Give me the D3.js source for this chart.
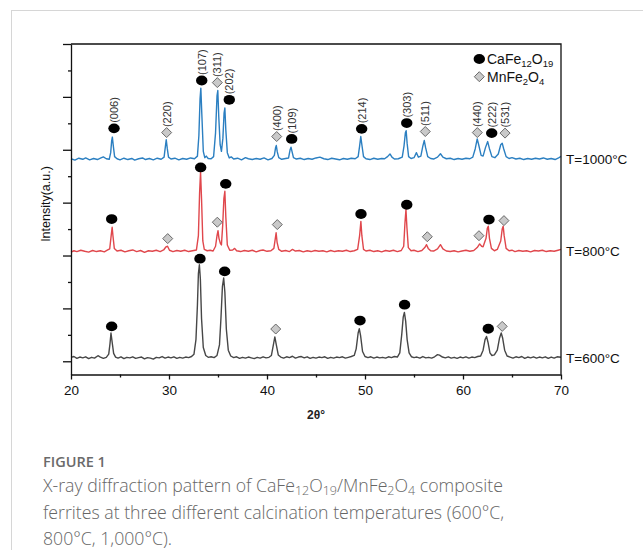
<!DOCTYPE html>
<html><head><meta charset="utf-8">
<script src="https://cdn.jsdelivr.net/npm/d3@7"></script>
<style>
html,body{margin:0;padding:0;background:#fff;}
svg{display:block;}
</style></head>
<body>
<svg id="chart" width="643" height="550"></svg>
<script>
// ---------- DATA ----------
const xTicks = [20, 30, 40, 50, 60, 70];
const xMinorTicks = [25, 35, 45, 55, 65];
const yTicks = [0, 200, 400, 600, 800, 1000, 1200];
const yMinorTicks = [100, 300, 500, 700, 900, 1100];
const seriesNames = ["T=600°C", "T=800°C", "T=1000°C"];
const seriesOffsets = [12, 415, 764];

// [2θ, relative intensity]
const data600 = [
[20.0,3],[20.3,6],[20.6,-1],[20.9,4],[21.2,1],[21.5,5],[21.8,-2],[22.1,3],[22.4,0],[22.75,9],[23.0,4],[23.3,-1],[23.6,3],
[23.85,15],[23.98,55],[24.08,95],[24.2,60],[24.35,18],[24.55,4],[24.8,0],[25.1,5],[25.4,-2],[25.7,3],[26.0,1],[26.3,5],
[26.6,-1],[26.9,2],[27.2,4],[27.5,-3],[27.8,2],[28.1,0],[28.4,-4],[28.7,3],[29.0,1],[29.3,6],[29.6,0],[29.9,4],[30.2,1],
[30.5,5],[30.8,-1],[31.1,3],[31.4,0],[31.7,4],[32.0,2],[32.3,6],[32.55,15],[32.75,70],[32.9,200],[33.0,320],[33.1,353],
[33.2,300],[33.32,150],[33.5,40],[33.75,10],[34.0,3],[34.3,5],[34.6,2],[34.9,10],[35.15,50],[35.3,150],[35.45,270],
[35.58,303],[35.7,250],[35.85,110],[36.05,30],[36.3,8],[36.6,2],[36.9,5],[37.2,-1],[37.5,3],[37.8,0],[38.1,4],[38.4,1],
[38.7,-2],[39.0,3],[39.3,0],[39.6,5],[39.9,1],[40.2,3],[40.45,10],[40.65,50],[40.8,80],[40.95,50],[41.15,12],[41.4,4],
[41.7,0],[42.0,5],[42.3,2],[42.6,7],[42.9,0],[43.2,4],[43.5,6],[43.8,1],[44.1,5],[44.4,-1],[44.7,3],[45.0,0],[45.3,4],
[45.6,2],[45.9,5],[46.2,-1],[46.5,3],[46.8,0],[47.1,4],[47.4,2],[47.7,5],[48.0,0],[48.3,3],[48.6,6],[48.9,10],[49.1,35],
[49.3,95],[49.42,111],[49.55,85],[49.75,25],[50.0,6],[50.3,2],[50.6,5],[50.9,0],[51.2,4],[51.5,1],[51.8,3],[52.1,0],
[52.4,5],[52.7,2],[53.0,6],[53.3,4],[53.55,20],[53.75,90],[53.9,155],[54.02,173],[54.15,140],[54.3,70],[54.5,20],
[54.75,5],[55.0,2],[55.3,4],[55.6,0],[55.9,6],[56.2,1],[56.5,3],[56.8,0],[57.1,5],[57.4,13],[57.6,11],[57.9,4],[58.2,1],
[58.5,5],[58.8,0],[59.1,3],[59.4,-1],[59.7,4],[60.0,1],[60.3,5],[60.6,0],[60.9,4],[61.2,2],[61.5,6],[61.8,8],[62.05,30],
[62.25,70],[62.4,82],[62.55,60],[62.75,20],[62.95,10],[63.2,12],[63.5,30],[63.72,75],[63.9,95],[64.05,75],[64.25,30],
[64.5,8],[64.8,4],[65.1,0],[65.4,5],[65.7,2],[66.0,6],[66.3,-1],[66.6,4],[66.9,1],[67.2,5],[67.5,0],[67.8,4],[68.1,1],
[68.4,5],[68.7,-1],[69.0,4],[69.3,0],[69.6,5],[70.0,3]
];
const data800 = [
[20.0,-2],[20.3,3],[20.6,0],[21.0,5],[21.4,1],[21.8,-2],[22.2,4],[22.6,0],[23.0,3],[23.4,-1],[23.7,5],[23.95,10],[24.1,60],
[24.2,92],[24.28,60],[24.42,12],[24.7,2],[25.1,5],[25.5,-1],[25.9,3],[26.3,6],[26.7,0],[27.1,4],[27.5,-3],[27.9,3],[28.3,1],
[28.7,5],[29.1,0],[29.45,6],[29.7,18],[29.85,20],[30.05,5],[30.4,0],[30.8,4],[31.2,1],[31.6,5],[32.0,0],[32.4,3],[32.8,6],
[33.0,60],[33.12,220],[33.22,302],[33.32,200],[33.45,40],[33.6,8],[33.9,3],[34.2,5],[34.5,2],[34.75,20],[34.9,60],[35.0,79],
[35.1,50],[35.25,30],[35.35,25],[35.48,100],[35.6,200],[35.7,228],[35.8,130],[35.95,25],[36.2,5],[36.5,6],[36.7,12],[36.9,3],
[37.3,0],[37.7,4],[38.1,1],[38.5,5],[38.9,-1],[39.3,4],[39.6,6],[40.0,1],[40.4,3],[40.7,12],[40.85,50],[40.93,71],[41.03,35],
[41.2,8],[41.5,1],[41.9,4],[42.3,0],[42.6,8],[42.9,2],[43.3,4],[43.7,-1],[44.1,3],[44.5,0],[44.9,4],[45.3,1],[45.7,3],
[46.1,-1],[46.5,4],[46.9,0],[47.3,3],[47.7,1],[48.1,5],[48.5,0],[48.9,3],[49.25,8],[49.45,60],[49.58,114],[49.68,60],
[49.85,8],[50.1,2],[50.5,5],[50.9,0],[51.3,3],[51.7,-1],[52.1,4],[52.5,1],[52.9,5],[53.3,0],[53.7,4],[53.95,20],[54.08,110],
[54.18,159],[54.28,90],[54.42,15],[54.7,3],[55.0,5],[55.4,0],[55.8,4],[56.1,15],[56.28,26],[56.45,12],[56.7,3],[57.0,2],
[57.4,10],[57.7,26],[57.95,10],[58.3,2],[58.7,0],[59.1,3],[59.5,-1],[59.9,2],[60.3,5],[60.7,1],[61.1,4],[61.45,15],[61.7,29],
[61.9,20],[62.05,18],[62.35,50],[62.48,88],[62.58,96],[62.7,50],[62.9,12],[63.2,3],[63.5,8],[63.85,40],[64.0,85],[64.1,96],
[64.2,60],[64.4,12],[64.7,3],[65.0,5],[65.3,0],[65.7,4],[66.1,1],[66.5,3],[66.9,-1],[67.3,4],[67.7,2],[68.1,5],[68.5,0],
[68.9,3],[69.3,1],[69.7,5],[70.0,8]
];
const data1000 = [
[20.0,2],[20.4,-3],[20.8,4],[21.2,0],[21.5,5],[21.9,-2],[22.3,3],[22.7,-1],[23.0,4],[23.3,9],[23.6,2],[23.9,0],[24.05,25],
[24.15,70],[24.22,84],[24.32,50],[24.45,10],[24.7,2],[25.0,-2],[25.4,4],[25.8,-1],[26.2,3],[26.5,-3],[26.9,2],[27.3,5],
[27.6,-1],[28.0,3],[28.4,-2],[28.8,4],[29.2,0],[29.5,8],[29.62,45],[29.72,74],[29.82,42],[29.95,8],[30.2,1],[30.6,4],
[31.0,-2],[31.4,3],[31.8,0],[32.2,5],[32.6,2],[32.9,12],[33.05,90],[33.17,230],[33.25,269],[33.35,170],[33.5,30],[33.65,6],
[33.8,12],[34.0,3],[34.3,2],[34.55,10],[34.75,100],[34.9,240],[34.98,260],[35.08,160],[35.22,55],[35.35,30],[35.5,80],
[35.62,175],[35.7,194],[35.8,110],[35.95,25],[36.15,5],[36.35,9],[36.6,1],[37.0,4],[37.4,-2],[37.8,6],[38.1,2],[38.5,-1],
[38.9,3],[39.3,0],[39.7,5],[40.1,-2],[40.5,3],[40.75,15],[40.88,45],[40.95,52],[41.05,28],[41.2,6],[41.5,0],[41.9,3],
[42.2,5],[42.35,35],[42.45,46],[42.55,30],[42.7,6],[43.0,1],[43.4,4],[43.8,-1],[44.2,3],[44.6,0],[45.0,5],[45.4,8],[45.8,2],
[46.2,-1],[46.6,4],[47.0,1],[47.4,-2],[47.8,3],[48.2,0],[48.6,4],[49.0,2],[49.3,10],[49.45,50],[49.57,86],[49.68,55],
[49.85,10],[50.1,2],[50.5,-1],[50.9,4],[51.3,0],[51.7,3],[52.0,2],[52.3,10],[52.55,20],[52.75,8],[53.0,1],[53.4,2],[53.8,8],
[53.98,50],[54.12,100],[54.2,108],[54.3,60],[54.45,10],[54.7,3],[55.0,6],[55.25,25],[55.45,8],[55.7,12],[55.9,50],[56.05,71],
[56.18,45],[56.4,10],[56.7,3],[57.0,1],[57.4,8],[57.7,21],[57.95,8],[58.3,2],[58.7,4],[59.1,-1],[59.5,3],[59.9,0],[60.3,4],
[60.7,2],[61.0,8],[61.25,40],[61.45,77],[61.6,55],[61.85,15],[62.05,12],[62.3,45],[62.52,67],[62.7,40],[62.95,10],[63.25,6],
[63.6,20],[63.85,55],[64.0,61],[64.15,40],[64.4,10],[64.7,3],[65.0,6],[65.4,1],[65.8,4],[66.2,-1],[66.6,3],[67.0,0],[67.4,4],
[67.8,1],[68.2,5],[68.6,0],[69.0,3],[69.4,-1],[69.7,4],[70.0,11]
];

// markers: [2θ, relative height of marker centre, phase ("c" = CaFe12O19, "d" = MnFe2O4), hkl label]
const markers600 = [
[24.15,120,"c",""],[33.16,376,"c",""],[35.68,328,"c",""],[40.89,110,"d",""],
[49.49,142,"c",""],[54.04,202,"c",""],[62.58,111,"c",""],[64.0,120,"d",""]
];
const markers800 = [
[24.15,123,"c",""],[29.87,49,"d",""],[33.23,318,"c",""],[34.93,111,"d",""],[35.79,256,"c",""],
[41.05,102,"d",""],[49.59,142,"c",""],[54.26,177,"c",""],[56.36,56,"d",""],[61.63,60,"d",""],
[62.65,121,"c",""],[64.18,117,"d",""]
];
const markers1000 = [
[24.39,117,"c","(006)"],[29.76,101,"d","(220)"],[33.34,298,"c","(107)"],[34.93,290,"d","(311)"],
[36.15,225,"c","(202)"],[40.99,86,"d","(400)"],[42.52,77,"c","(109)"],[49.66,115,"c","(214)"],
[54.26,137,"c","(303)"],[56.15,105,"d","(511)"],[61.46,101,"d","(440)"],[62.93,99,"c","(222)"],
[64.29,99,"d","(531)"]
];

const seriesData = [data600, data800, data1000];
const seriesMarkers = [markers600, markers800, markers1000];
const seriesColors = ["#474747", "#e0474c", "#2b7fc1"];

// ---------- DRAW ----------
const svg = d3.select("#chart");
const W = 643, H = 550;
svg.append("rect").attr("x",0).attr("y",0).attr("width",W).attr("height",H).attr("fill","#fff");
svg.append("rect").attr("x",11.5).attr("y",10.5).attr("width",700).attr("height",700)
  .attr("fill","none").attr("stroke","#d6d6d6").attr("stroke-width",1);

const x = d3.scaleLinear().domain([20,70]).range([71,561]);
const y = d3.scaleLinear().domain([-50,1200]).range([374.5,44]);
const font = "'Liberation Sans', Arial, sans-serif";

// lines
const line = d3.line().x(d => x(d[0])).y(d => y(d[1]));
seriesData.forEach((s, i) => {
  const off = seriesOffsets[i];
  svg.append("path")
    .datum(s.map(d => [d[0], d[1] + off]))
    .attr("fill","none").attr("stroke",seriesColors[i]).attr("stroke-width",1.4)
    .attr("stroke-linejoin","round").attr("d", line);
});

// axes
const gAx = svg.append("g").attr("font-family", font);
const yMaj = d3.axisLeft(y).tickValues(yTicks).tickSize(8).tickSizeOuter(0).tickFormat("");
const yMin = d3.axisLeft(y).tickValues(yMinorTicks).tickSize(3).tickSizeOuter(0).tickFormat("");
gAx.append("g").attr("transform","translate(71,0)").call(yMaj);
gAx.append("g").attr("transform","translate(71,0)").call(yMin).select(".domain").remove();
const xMaj = d3.axisBottom(x).tickValues(xTicks).tickSize(5).tickSizeOuter(0).tickPadding(6).tickFormat(d3.format("d"));
const xMin = d3.axisBottom(x).tickValues(xMinorTicks).tickSize(3).tickSizeOuter(0).tickFormat("");
const gx = gAx.append("g").attr("transform","translate(0,374.5)").call(xMaj);
gAx.append("g").attr("transform","translate(0,374.5)").call(xMin).select(".domain").remove();
gx.selectAll("text").attr("font-size",13.5).attr("fill","#111").attr("font-family",font);
gAx.selectAll(".domain, .tick line").attr("stroke","#111").attr("stroke-width",1.3);
// frame top/right
svg.append("path").attr("d", `M${x(20)},${y(1200)}H${x(70)}V${y(-50)}`)
  .attr("fill","none").attr("stroke","#111").attr("stroke-width",1.3);

// markers
function drawMarker(g, cx, cy, phase) {
  if (phase === "c") {
    g.append("ellipse").attr("cx",cx).attr("cy",cy).attr("rx",5.7).attr("ry",4.9).attr("fill","#000");
  } else {
    const r = 5;
    g.append("path").attr("d",`M${cx},${cy-r}L${cx+r},${cy}L${cx},${cy+r}L${cx-r},${cy}Z`)
      .attr("fill","#c9c9c9").attr("stroke","#6a6a6a").attr("stroke-width",1);
  }
}
const gm = svg.append("g");
seriesMarkers.forEach((ms, i) => {
  const off = seriesOffsets[i];
  ms.forEach(m => {
    const cx = x(m[0]), cy = y(m[1] + off);
    drawMarker(gm, cx, cy, m[2]);
    if (m[3]) {
      gm.append("text").attr("transform",`translate(${cx},${cy-5.5}) rotate(-90)`)
        .attr("dy","0.35em").attr("font-family",font).attr("font-size",11).attr("fill","#333")
        .text(m[3]);
    }
  });
});

// series labels
seriesNames.forEach((n, i) => {
  svg.append("text").attr("x",566).attr("y", y(seriesOffsets[i])).attr("dy","0.35em")
    .attr("font-family",font).attr("font-size",13.5).attr("fill","#111").text(n);
});

// legend
const lg = svg.append("g").attr("font-family",font).attr("font-size",14).attr("fill","#111");
drawMarker(lg, 479.3, 59, "c");
drawMarker(lg, 479.3, 76.7, "d");
const t1 = lg.append("text").attr("x",487).attr("y",59).attr("dy","0.35em");
t1.append("tspan").text("CaFe");
t1.append("tspan").attr("font-size",9.5).attr("dy","3").text("12");
t1.append("tspan").attr("dy","-3").text("O");
t1.append("tspan").attr("font-size",9.5).attr("dy","3").text("19");
const t2 = lg.append("text").attr("x",487).attr("y",76.7).attr("dy","0.35em");
t2.append("tspan").text("MnFe");
t2.append("tspan").attr("font-size",9.5).attr("dy","3").text("2");
t2.append("tspan").attr("dy","-3").text("O");
t2.append("tspan").attr("font-size",9.5).attr("dy","3").text("4");

// axis titles
svg.append("text").attr("transform","translate(46,204) rotate(-90)").attr("text-anchor","middle")
  .attr("dy","0.35em").attr("font-family",font).attr("font-size",12.5).attr("fill","#111").text("Intensity(a.u.)");
svg.append("text").attr("x",316).attr("y",415).attr("text-anchor","middle").attr("dy","0.35em")
  .attr("font-family",font).attr("font-size",12).attr("font-weight",600).attr("fill","#222").text("2θ°");

// caption
const cf = "'Open Sans', 'Noto Sans', sans-serif";
svg.append("text").attr("x",43).attr("y",467).attr("font-family",cf).attr("font-size",14.5)
  .attr("font-weight",600).attr("fill","#6a6a6a").text("FIGURE 1");
const cap = svg.append("g").attr("font-family",cf).attr("font-size",17.7).attr("font-weight",300).attr("fill","#666");
const l1 = cap.append("text").attr("x",43).attr("y",492);
l1.append("tspan").text("X-ray diffraction pattern of CaFe");
l1.append("tspan").attr("font-size",12.5).attr("dy",3).text("12");
l1.append("tspan").attr("dy",-3).text("O");
l1.append("tspan").attr("font-size",12.5).attr("dy",3).text("19");
l1.append("tspan").attr("dy",-3).text("/MnFe");
l1.append("tspan").attr("font-size",12.5).attr("dy",3).text("2");
l1.append("tspan").attr("dy",-3).text("O");
l1.append("tspan").attr("font-size",12.5).attr("dy",3).text("4");
l1.append("tspan").attr("dy",-3).text(" composite");
cap.append("text").attr("x",43).attr("y",519).text("ferrites at three different calcination temperatures (600°C,");
cap.append("text").attr("x",43).attr("y",545).text("800°C, 1,000°C).");
</script>
</body></html>
